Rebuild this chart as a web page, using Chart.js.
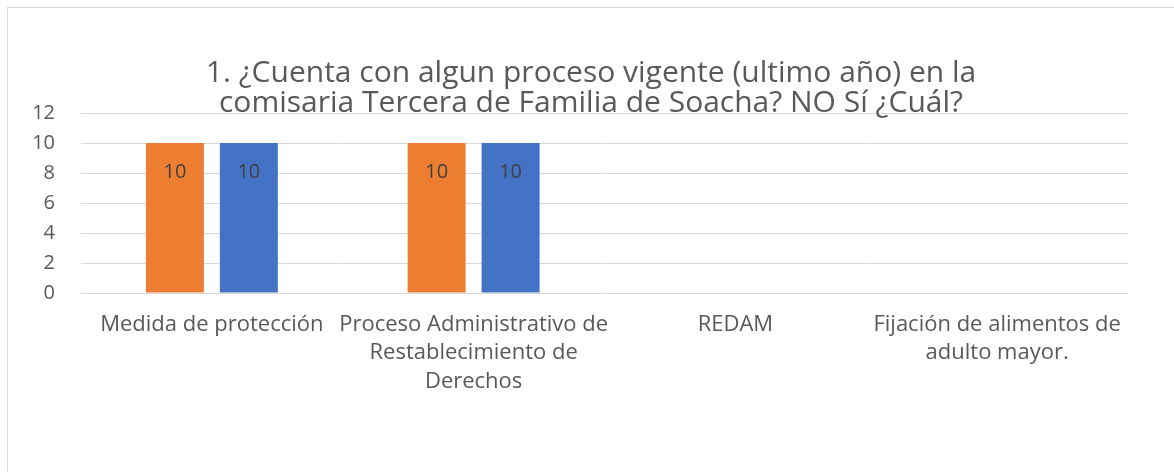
<!DOCTYPE html>
<html>
<head>
<meta charset="utf-8">
<script src="https://cdn.jsdelivr.net/npm/chart.js@4"></script>
<style>
  body { margin: 0; background: #fff; }
  #wrap {
    position: absolute; left: 7px; top: 7px;
    width: 1167px; height: 465px;
    border-left: 1px solid #d9d9d9; border-top: 1px solid #d9d9d9;
  }
  canvas { display: block; }
</style>
</head>
<body>
<div id="wrap"><canvas id="chart" width="1166" height="464"></canvas></div>
<script>
// ===== DATA =====
const titleLines = [
  "1. ¿Cuenta con algun proceso vigente (ultimo año) en la",
  "comisaria Tercera de Familia de Soacha? NO Sí ¿Cuál?"
];
const categories = [
  ["Medida de protección"],
  ["Proceso Administrativo de", "Restablecimiento de", "Derechos"],
  ["REDAM"],
  ["Fijación de alimentos de", "adulto mayor."]
];
const seriesOrange = [10, 10, null, null];
const seriesBlue = [10, 10, null, null];
const yTicks = [0, 2, 4, 6, 8, 10, 12];

const FONT = "'Open Sans', sans-serif";
const TEXT = "#595959";

// ===== LABELS PLUGIN =====
const barLabels = {
  id: "barLabels",
  afterDatasetsDraw(chart) {
    const c = chart.ctx;
    c.save();
    c.font = "20px " + FONT;
    c.fillStyle = "#404040";
    c.textAlign = "center";
    c.textBaseline = "middle";
    chart.data.datasets.forEach((ds, i) => {
      chart.getDatasetMeta(i).data.forEach((bar, j) => {
        if (ds.data[j] == null) return;
        c.fillText(ds.data[j], bar.x, bar.y + 29);
      });
    });
    c.restore();
  }
};

// ===== CHART =====
const ctx = document.getElementById("chart").getContext("2d");

new Chart(ctx, {
  type: "bar",
  data: {
    labels: categories,
    datasets: [
      { data: seriesOrange, backgroundColor: "#ED7D31" },
      { data: seriesBlue, backgroundColor: "#4472C4" }
    ]
  },
  options: {
    responsive: false,
    animation: false,
    layout: { padding: { top: 50, right: 0, left: 0, bottom: 0 } },
    datasets: { bar: { categoryPercentage: 0.565, barPercentage: 0.784 } },
    plugins: {
      legend: { display: false },
      tooltip: { enabled: false },
      title: {
        display: true,
        text: titleLines,
        color: TEXT,
        font: { family: FONT, size: 30, weight: "normal", lineHeight: 1 },
        padding: { top: 0, bottom: -5 }
      }
    },
    scales: {
      x: {
        grid: { display: false, drawTicks: false },
        border: { display: false },
        ticks: {
          color: TEXT,
          padding: 17,
          maxRotation: 0,
          autoSkip: false,
          font: { family: FONT, size: 22, lineHeight: 1.3 }
        },
        afterFit(scale) { scale.height = 179; }
      },
      y: {
        min: 0,
        max: 12,
        afterBuildTicks(scale) { scale.ticks = yTicks.map(v => ({ value: v })); },
        grid: { color: "#d9d9d9", drawTicks: false },
        border: { display: false },
        ticks: {
          color: TEXT,
          padding: 26,
          font: { family: FONT, size: 20 }
        },
        afterFit(scale) { scale.width = 73; }
      },
      // empty right margin so the title stays centred on the whole box
      yRight: {
        position: "right",
        grid: { display: false, drawTicks: false },
        border: { display: false },
        ticks: { display: false },
        afterFit(scale) { scale.width = 46; }
      }
    }
  },
  plugins: [barLabels]
});
</script>
</body>
</html>
